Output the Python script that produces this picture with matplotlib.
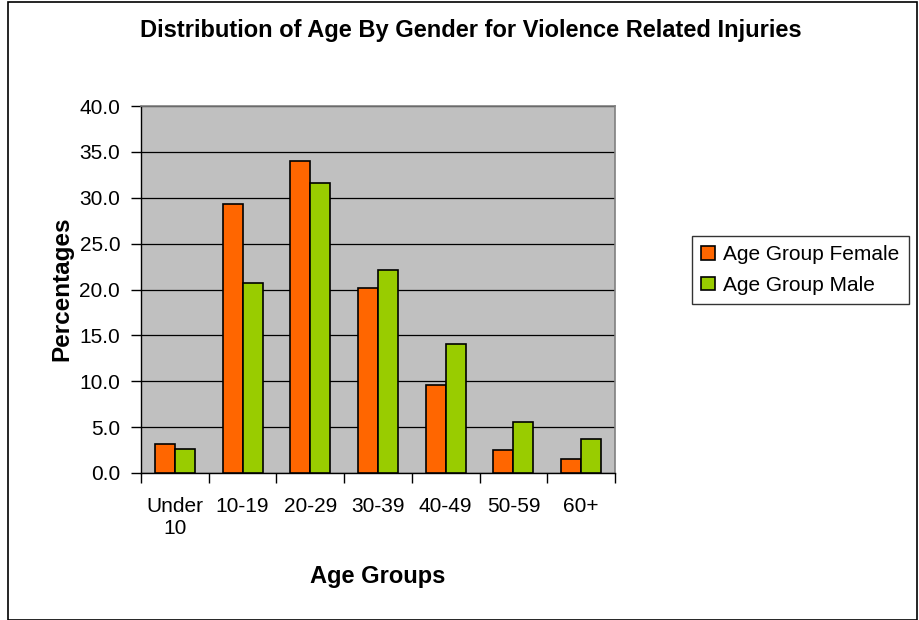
import numpy as np
import matplotlib.pyplot as plt
from matplotlib.patches import Rectangle

plt.rcParams['font.family'] = ['Liberation Sans', 'DejaVu Sans']

groups = ["Under\n10", "10-19", "20-29", "30-39", "40-49", "50-59", "60+"]
female = [3.2, 29.3, 34.0, 20.2, 9.6, 2.5, 1.5]
male = [2.6, 20.7, 31.6, 22.1, 14.1, 5.6, 3.7]
series_names = ["Age Group Female", "Age Group Male"]

fig = plt.figure(figsize=(9.19, 6.2), dpi=100)
ax = fig.add_axes([141/919, 1-473/620, 474/919, 367/620])
ax.set_facecolor('#C0C0C0')

x = np.arange(len(groups))
w = 0.295
ax.bar(x - w/2, female, w, color='#FF6600', edgecolor='black', linewidth=1.2,
       label=series_names[0], zorder=3)
ax.bar(x + w/2, male, w, color='#99CC00', edgecolor='black', linewidth=1.2,
       label=series_names[1], zorder=3)

ax.set_xlim(-0.5, len(groups) - 0.5)
ax.set_ylim(0, 40)
ax.set_yticks(np.arange(0, 40.1, 5))
ax.set_yticklabels(["%.1f" % v for v in np.arange(0, 40.1, 5)], fontsize=15)
ax.yaxis.grid(True, color='black', linewidth=0.9, zorder=1)
ax.tick_params(axis='y', direction='out', length=7, width=1, pad=8)

ax.set_xticks(x)
ax.set_xticklabels(groups, fontsize=15, linespacing=1.25)
ax.tick_params(axis='x', which='major', length=0, pad=17)
ax.set_xticks(np.arange(-0.5, len(groups), 1), minor=True)
ax.tick_params(axis='x', which='minor', direction='out', length=7, width=1)

for s in ['top', 'right']:
    ax.spines[s].set_color('#808080')
    ax.spines[s].set_linewidth(1.2)
for s in ['left', 'bottom']:
    ax.spines[s].set_color('black')
    ax.spines[s].set_linewidth(1.0)

fig.text(471/919, 1-30/620, "Distribution of Age By Gender for Violence Related Injuries",
         ha='center', va='center', fontsize=17, fontweight='bold')
fig.text(62/919, 1-289/620, "Percentages", rotation=90, ha='center', va='center',
         fontsize=17.5, fontweight='bold')
fig.text(378/919, 1-576/620, "Age Groups", ha='center', va='center',
         fontsize=17, fontweight='bold')

leg = fig.legend(loc='upper left', bbox_to_anchor=(692/919, 1-236/620),
                 fontsize=15, frameon=True, fancybox=False, edgecolor='black',
                 handlelength=0.65, handleheight=0.65, handletextpad=0.4,
                 borderpad=0.45, labelspacing=0.55, borderaxespad=0)
leg.get_frame().set_linewidth(1.0)

fig.patches.append(Rectangle((8/919, 0), 909/919, 1-2/620, transform=fig.transFigure,
                             fill=False, edgecolor='black', linewidth=1.2))

fig.savefig("out.png", dpi=100)
